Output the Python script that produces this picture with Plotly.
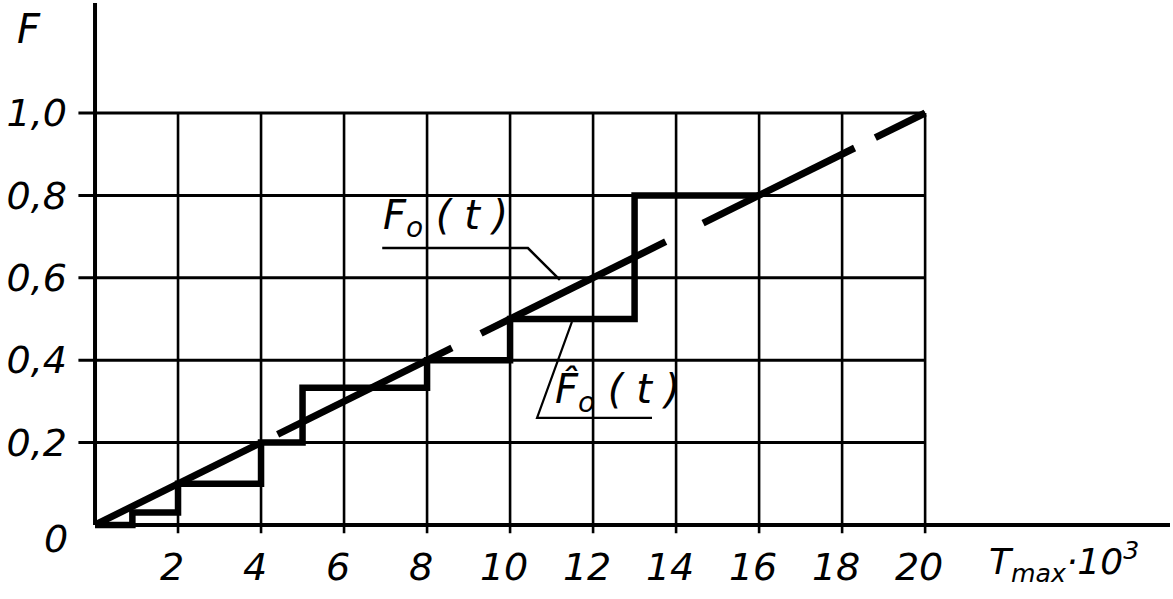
import plotly.graph_objects as go

# ---- data ----
x_ticks = [2, 4, 6, 8, 10, 12, 14, 16, 18, 20]
x_tick_labels = ["2", "4", "6", "8", "10", "12", "14", "16", "18", "20"]
y_ticks = [0.2, 0.4, 0.6, 0.8, 1.0]
y_tick_labels = ["0,2", "0,4", "0,6", "0,8", "1,0"]

# empirical distribution function (step)
step_x = [0, 0.9, 2, 4, 5, 8, 10, 13, 16]
step_y = [0, 0.03, 0.1, 0.2, 0.333, 0.4, 0.5, 0.8, 0.8]

# theoretical F0(t) = t / 20, drawn as long dashes
t_max = 20
dash_segments = [(0, 3.95), (4.4, 8.6), (9.3, 13.75), (14.65, 18.3), (18.8, 20)]

FONT = "DejaVu Sans"
INK = "black"
X_RANGE = [-0.41, 25.9]
Y_RANGE = [-0.039, 1.267]


def to_paper(x, y):
    return ((x - X_RANGE[0]) / (X_RANGE[1] - X_RANGE[0]),
            (y - Y_RANGE[0]) / (Y_RANGE[1] - Y_RANGE[0]))


fig = go.Figure()

# grid: vertical lines
for xv in x_ticks:
    fig.add_trace(go.Scatter(x=[xv, xv], y=[-0.02, 1.0], mode="lines",
                             line=dict(color=INK, width=2.6), hoverinfo="skip", showlegend=False))
# grid: horizontal lines
for yv in y_ticks:
    fig.add_trace(go.Scatter(x=[-0.4, 20], y=[yv, yv], mode="lines",
                             line=dict(color=INK, width=3), hoverinfo="skip", showlegend=False))

# axes
fig.add_trace(go.Scatter(x=[0, 25.9], y=[0, 0], mode="lines",
                         line=dict(color=INK, width=4), hoverinfo="skip", showlegend=False))
fig.add_trace(go.Scatter(x=[0, 0], y=[0, 1.267], mode="lines",
                         line=dict(color=INK, width=4), hoverinfo="skip", showlegend=False))

# step function
fig.add_trace(go.Scatter(x=step_x, y=step_y, mode="lines", line_shape="hv",
                         line=dict(color=INK, width=6.5), hoverinfo="skip", showlegend=False))

# dashed theoretical line
dx, dy = [], []
for a, b in dash_segments:
    dx += [a, b, None]
    dy += [a / t_max, b / t_max, None]
fig.add_trace(go.Scatter(x=dx, y=dy, mode="lines",
                         line=dict(color=INK, width=7), hoverinfo="skip", showlegend=False))

# leader lines
fig.add_trace(go.Scatter(x=[6.92, 10.43, 11.2], y=[0.672, 0.672, 0.595], mode="lines",
                         line=dict(color=INK, width=2.5), hoverinfo="skip", showlegend=False))
fig.add_trace(go.Scatter(x=[13.42, 10.65, 11.49], y=[0.26, 0.26, 0.493], mode="lines",
                         line=dict(color=INK, width=2.2), hoverinfo="skip", showlegend=False))

tfont = dict(family=FONT, size=38, color=INK, style="italic")
lfont = dict(family=FONT, size=40, color=INK, style="italic")
afont = dict(family=FONT, size=36, color=INK, style="italic")

annotations = []
for xd, yd, txt, f in [
    (-1.6, 1.205, "F", lfont),
    (-0.95, -0.035, "0", tfont),
    (23.35, -0.09, "T<sub>max</sub>·10<sup>3</sup>", afont),
    (8.45, 0.745, "F<sub>o</sub> ( <i>t</i> )", lfont),
    (12.6, 0.323, "F\u0302<sub>o</sub> ( <i>t</i> )", lfont),
]:
    px, py = to_paper(xd, yd)
    annotations.append(dict(x=px, y=py, xref="paper", yref="paper", text=txt,
                            xanchor="center", yanchor="middle",
                            showarrow=False, font=f))

fig.update_layout(
    width=1173, height=599,
    margin=dict(l=78, r=3, t=3, b=58, autoexpand=False),
    paper_bgcolor="white", plot_bgcolor="white",
    annotations=annotations,
    xaxis=dict(range=X_RANGE, showgrid=False, zeroline=False, showline=False,
               tickmode="array", tickvals=x_ticks, ticktext=x_tick_labels,
               ticks="", tickfont=tfont, automargin=False, ticklabelshift=-6),
    yaxis=dict(range=Y_RANGE, showgrid=False, zeroline=False, showline=False,
               tickmode="array", tickvals=y_ticks, ticktext=y_tick_labels,
               ticks="", tickfont=tfont, ticklabelstandoff=10, automargin=False),
)

fig.write_html("out.html", config={"displayModeBar": False},
               post_script="document.body.style.margin='0';")
